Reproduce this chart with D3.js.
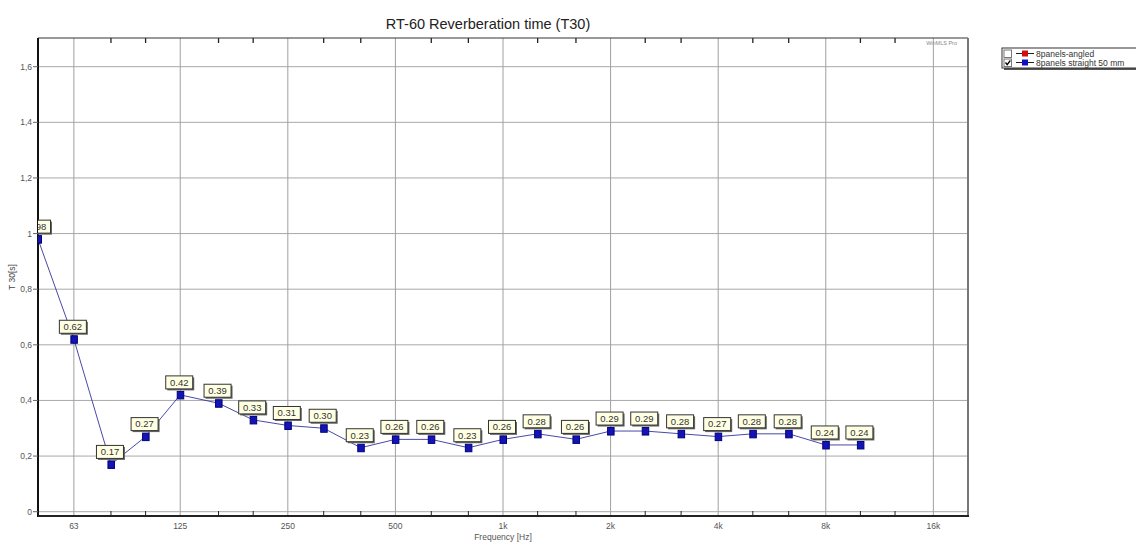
<!DOCTYPE html>
<html>
<head>
<meta charset="utf-8">
<script src="https://cdn.jsdelivr.net/npm/d3@7"></script>
<style>
  body { margin: 0; background: #fff; }
  svg text { font-family: "Liberation Sans", Arial, sans-serif; }
</style>
</head>
<body>
<div id="chart"></div>
<script>
//
// RT-60 reverberation time, third octave bands
//
const bands = [50, 63, 80, 100, 125, 160, 200, 250, 315, 400, 500, 630, 800,
  1000, 1250, 1600, 2000, 2500, 3150, 4000, 5000, 6300, 8000, 10000]
const t30 = [0.98, 0.62, 0.17, 0.27, 0.42, 0.39, 0.33, 0.31, 0.30, 0.23, 0.26, 0.26, 0.23,
  0.26, 0.28, 0.26, 0.29, 0.29, 0.28, 0.27, 0.28, 0.28, 0.24, 0.24]
const majorTicks = [63, 125, 250, 500, 1000, 2000, 4000, 8000, 16000]
const majorLabels = ["63", "125", "250", "500", "1k", "2k", "4k", "8k", "16k"]
const minorTicks = [80, 100, 160, 200, 315, 400, 630, 800, 1250, 1600, 2500, 3150,
  5000, 6300, 10000, 12500]
const yTicks = [0, 0.2, 0.4, 0.6, 0.8, 1, 1.2, 1.4, 1.6]
const legendNames = ["8panels-angled", "8panels straight 50 mm"]
const legendColors = ["#d01010", "#1010c0"]
const legendChecked = [false, true]

const W = 1136, H = 542
const pLeft = 38, pRight = 968, pTop = 38, pBottom = 516

const svg = d3.select("#chart").append("svg")
  .attr("width", W).attr("height", H)

const x = d3.scaleLog().domain([50, 20000]).range([pLeft, pRight])
const y = d3.scaleLinear().domain([0, 1.6]).range([511.7, 66.7])

// clip for the plot area
svg.append("clipPath").attr("id", "plotclip")
  .append("rect")
    .attr("x", pLeft).attr("y", pTop)
    .attr("width", pRight - pLeft).attr("height", pBottom - pTop)

// grid
svg.append("g")
  .selectAll("line")
  .data(yTicks)
  .enter().append("line")
    .attr("x1", pLeft).attr("x2", pRight)
    .attr("y1", d => y(d)).attr("y2", d => y(d))
    .attr("stroke", "#a8a8a8")
svg.append("g")
  .selectAll("line")
  .data(majorTicks)
  .enter().append("line")
    .attr("x1", d => x(d)).attr("x2", d => x(d))
    .attr("y1", pTop).attr("y2", pBottom)
    .attr("stroke", "#a0a0a0")

// minor ticks at top and bottom
const minor = svg.append("g").attr("stroke", "#222")
minor.selectAll(".mb")
  .data(minorTicks)
  .enter().append("line")
    .attr("x1", d => x(d)).attr("x2", d => x(d))
    .attr("y1", pBottom - 5).attr("y2", pBottom)
minor.selectAll(".mt")
  .data(minorTicks)
  .enter().append("line")
    .attr("x1", d => x(d)).attr("x2", d => x(d))
    .attr("y1", pTop).attr("y2", pTop + 5)
    .attr("stroke-width", 1.3)

// frame
svg.append("line").attr("x1", pLeft).attr("x2", pRight).attr("y1", pTop).attr("y2", pTop)
  .attr("stroke", "#333")
svg.append("line").attr("x1", pRight).attr("x2", pRight).attr("y1", pTop).attr("y2", pBottom)
  .attr("stroke", "#777").attr("stroke-width", 2)
svg.append("line").attr("x1", pLeft).attr("x2", pLeft).attr("y1", pTop).attr("y2", pBottom + 1)
  .attr("stroke", "#111").attr("stroke-width", 2)
svg.append("line").attr("x1", pLeft).attr("x2", pRight + 1).attr("y1", pBottom).attr("y2", pBottom)
  .attr("stroke", "#222").attr("stroke-width", 2)

// y axis ticks and labels
const yAxis = svg.append("g")
yAxis.selectAll("line")
  .data(yTicks)
  .enter().append("line")
    .attr("x1", pLeft - 5).attr("x2", pLeft)
    .attr("y1", d => y(d)).attr("y2", d => y(d))
    .attr("stroke", "#666")
yAxis.selectAll("text")
  .data(yTicks)
  .enter().append("text")
    .attr("x", pLeft - 6).attr("y", d => y(d) + 3)
    .attr("text-anchor", "end")
    .attr("font-size", 8.5)
    .attr("fill", "#555")
    .text(d => d3.format(".1~f")(d).replace(".", ","))

svg.append("text")
  .attr("transform", "translate(15," + (pTop + pBottom) / 2 + ") rotate(-90)")
  .attr("text-anchor", "middle")
  .attr("font-size", 8.5)
  .attr("fill", "#444")
  .text("T 30[s]")

// x axis labels
svg.append("g")
  .selectAll("text")
  .data(majorTicks)
  .enter().append("text")
    .attr("x", d => x(d)).attr("y", 528.5)
    .attr("text-anchor", "middle")
    .attr("font-size", 8.5)
    .attr("fill", "#555")
    .text((d, i) => majorLabels[i])

svg.append("text")
  .attr("x", (pLeft + pRight) / 2).attr("y", 540)
  .attr("text-anchor", "middle")
  .attr("font-size", 8.5)
  .attr("fill", "#555")
  .text("Frequency [Hz]")

// title
svg.append("text")
  .attr("x", 488).attr("y", 29)
  .attr("text-anchor", "middle")
  .attr("font-size", 14.5)
  .attr("fill", "#222")
  .text("RT-60 Reverberation time (T30)")

svg.append("text")
  .attr("x", 957).attr("y", 45)
  .attr("text-anchor", "end")
  .attr("font-size", 5.5)
  .attr("fill", "#888")
  .text("WinMLS Pro")

// series
const data = bands.map((f, i) => ({ f: f, v: t30[i] }))
const plot = svg.append("g").attr("clip-path", "url(#plotclip)")

plot.append("path")
  .datum(data)
  .attr("fill", "none")
  .attr("stroke", "#34349a")
  .attr("stroke-width", 0.9)
  .attr("d", d3.line().x(d => x(d.f)).y(d => y(d.v)))

plot.selectAll(".mk")
  .data(data)
  .enter().append("rect")
    .attr("x", d => x(d.f) - 3).attr("y", d => y(d.v) - 3.5)
    .attr("width", 6.5).attr("height", 7.5)
    .attr("fill", "#1414b4")
    .attr("stroke", "#00007a")
    .attr("stroke-width", 1)

// value labels
const bw = 27, bh = 13
const lab = plot.selectAll(".lab")
  .data(data)
  .enter().append("g")
    .attr("transform", d => "translate(" + (x(d.f) - 1 - bw / 2) + "," + (y(d.v) - 6 - bh) + ")")
lab.append("rect")
  .attr("x", 1.5).attr("y", 1.5)
  .attr("width", bw).attr("height", bh)
  .attr("fill", "#666")
lab.append("rect")
  .attr("width", bw).attr("height", bh)
  .attr("fill", "#ffffe4")
  .attr("stroke", "#333")
  .attr("stroke-width", 1)
lab.append("text")
  .attr("x", bw / 2).attr("y", bh / 2 + 3.3)
  .attr("text-anchor", "middle")
  .attr("font-size", 9.5)
  .attr("fill", "#333")
  .text(d => d.v.toFixed(2))

// legend
const lg = svg.append("g").attr("transform", "translate(1002,48)")
lg.append("rect").attr("x", 2).attr("y", 2).attr("width", 150).attr("height", 20).attr("fill", "#555")
lg.append("rect").attr("width", 150).attr("height", 20).attr("fill", "#fff")
  .attr("stroke", "#333")
const row = lg.selectAll(".row")
  .data(legendNames)
  .enter().append("g")
    .attr("transform", (d, i) => "translate(0," + (5.5 + i * 9) + ")")
row.append("rect")
  .attr("x", 2).attr("y", -3.5).attr("width", 7.5).attr("height", 7.5)
  .attr("fill", "#fff").attr("stroke", "#777")
row.filter((d, i) => legendChecked[i]).append("path")
  .attr("d", "M3.5,0 L5.2,2.2 L8.3,-2")
  .attr("fill", "none").attr("stroke", "#000").attr("stroke-width", 1.3)
row.append("line")
  .attr("x1", 14).attr("x2", 32).attr("y1", 0).attr("y2", 0)
  .attr("stroke", "#222")
row.append("rect")
  .attr("x", 20).attr("y", -3).attr("width", 6).attr("height", 6)
  .attr("fill", (d, i) => legendColors[i])
row.append("text")
  .attr("x", 34).attr("y", 3)
  .attr("font-size", 8.5)
  .attr("fill", "#333")
  .text(d => d)
</script>
</body>
</html>
